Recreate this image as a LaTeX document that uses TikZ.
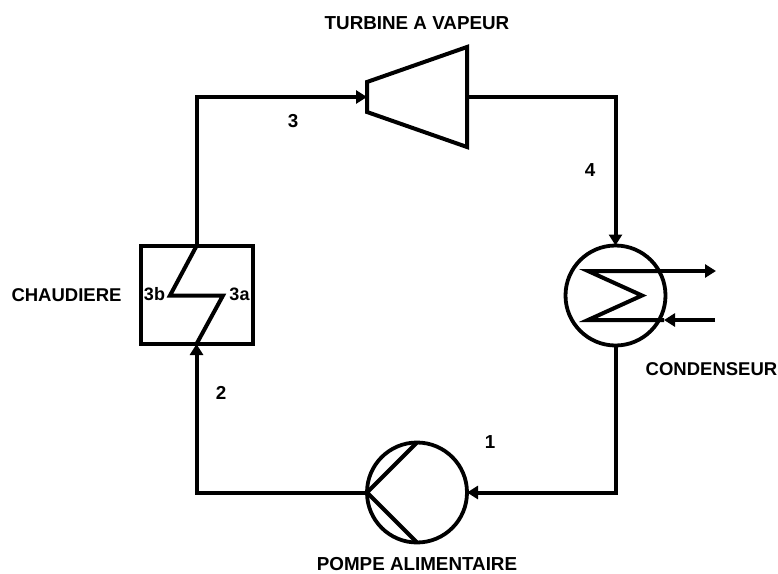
\documentclass[tikz,border=0pt]{standalone}
\usepackage{fontspec}
\setmainfont{Liberation Sans}
\usetikzlibrary{arrows.meta}
\tikzset{
  x=1pt,y=-1pt,
  ln/.style={line width=4pt,line join=miter,black},
  pipe/.style={ln,-{Triangle[length=11pt,width=13pt]}},
  equip/.style={circle,draw,line width=3.8pt,minimum size=100pt,inner sep=0pt,outer sep=0pt},
  lab/.style={font=\bfseries\fontsize{18.8}{20}\selectfont,inner sep=0pt},
  sm/.style={font=\bfseries\fontsize{18}{20}\selectfont,inner sep=0pt}
}
\begin{document}
\begin{tikzpicture}
\useasboundingbox (0,0) rectangle (778,573);
\fill[white] (0,0) rectangle (778,573);
% equipment
\node[equip] (cond) at (615.5,295.5) {};
\node[equip] (pump) at (417,492.5) {};
\node[draw,line width=4pt,minimum width=112pt,minimum height=98pt,inner sep=0pt,outer sep=0pt] (boil) at (196.5,295) {};
\coordinate (tl) at (367,82);
\coordinate (tm) at (367,97);
\coordinate (bl) at (367,112);
\coordinate (tr) at (467,47);
\coordinate (tn) at (467,97);
\coordinate (br) at (467,147);
\draw[ln] (tl) -- (tr) -- (br) -- (bl) -- cycle;
% connectors
\draw[pipe] (boil.north) -- (196.5,97) -- (tm);
\draw[pipe] (tn) -- (615.5,97) -- (cond.north);
\draw[pipe] (cond.south) -- (615.5,492.5) -- (pump.east);
\draw[pipe] (pump.west) -- (196.5,492.5) -- (boil.south);
% boiler coil
\coordinate (z1) at (170,295.5);
\coordinate (z2) at (223,295.5);
\draw[ln] (boil.north) -- (z1) -- (z2) -- (boil.south);
% condenser coil
\coordinate (c1) at (588,271);
\coordinate (c2) at (642,295.5);
\coordinate (c3) at (588,320);
\coordinate (cout) at (716,271);
\coordinate (cin) at (715,320);
\coordinate (cend) at (664,320);
\draw[ln,miter limit=10] (cend) -- (c3) -- (c2) -- (c1) -- (658,271);
\draw[pipe] (c1) -- (cout);
\draw[pipe] (cin) -- (cend);
% pump blades
\draw[ln] (pump.north) -- (pump.west) -- (pump.south);
% labels
\node[lab] (lt) at (417,23) {TURBINE A VAPEUR};
\node[lab,font=\bfseries\fontsize{18.5}{20}\selectfont] (lc) at (711.5,369) {CONDENSEUR};
\node[lab] (lp) at (417,564) {POMPE ALIMENTAIRE};
\node[lab,font=\bfseries\fontsize{18.5}{20}\selectfont] (lb) at (66.5,295) {CHAUDIERE};
\node[lab] (n1) at (490,442) {1};
\node[lab] (n2) at (221,393) {2};
\node[lab] (n3) at (293,121) {3};
\node[lab] (n4) at (590,170) {4};
\node[sm] (n3a) at (239.5,294) {3a};
\node[sm] (n3b) at (154.5,294) {3b};
\end{tikzpicture}
\end{document}
